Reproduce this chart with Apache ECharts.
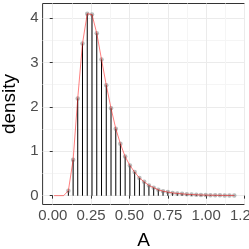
<!DOCTYPE html>
<html><head><meta charset="utf-8">
<script src="https://cdn.jsdelivr.net/npm/echarts@6/dist/echarts.min.js"></script>
<style>html,body{margin:0;padding:0;background:#fff}#c{width:249px;height:249px}</style>
</head><body><div id="c"></div>
<script>
// bin centres of A
var aValues = [0.009,0.040,0.071,0.102,0.133,0.163,0.194,0.225,0.256,0.287,0.318,0.349,0.380,0.411,0.441,0.472,0.503,0.534,0.565,0.596,0.627,0.658,0.688,0.719,0.750,0.781,0.812,0.843,0.874,0.905,0.936,0.966,0.997,1.028,1.059,1.090,1.121,1.152,1.183];
// density at each centre
var densityValues = [0,0,0,0.11,0.81,2.19,3.43,4.10,4.08,3.66,3.07,2.49,1.97,1.51,1.17,0.88,0.68,0.53,0.40,0.31,0.23,0.18,0.13,0.10,0.08,0.06,0.05,0.04,0.03,0.025,0.02,0.015,0.012,0.01,0.008,0.006,0.005,0.004,0.003];
var xTicks = [0,0.25,0.5,0.75,1.0,1.25];
var xTickLabels = ['0.00','0.25','0.50','0.75','1.00','1.25'];
var xMinor = [0.125,0.375,0.625,0.875,1.125];
var yTicks = [0,1,2,3,4];
var yTickLabels = ['0','1','2','3','4'];
var yMinor = [0.5,1.5,2.5,3.5];

var XMIN = -0.066, XMAX = 1.25, YMIN = -0.2, YMAX = 4.33;

var pts = [], barsPts = [];
for (var i = 0; i < aValues.length; i++) {
  pts.push([aValues[i], densityValues[i]]);
  if (densityValues[i] > 0) barsPts.push([aValues[i], densityValues[i]]);
}
function lab(ticks, labels) { return function (v) { for (var i = 0; i < ticks.length; i++) if (Math.abs(ticks[i] - v) < 1e-6) return labels[i]; return ''; }; }

var chart = echarts.init(document.getElementById('c'), null, {renderer: 'canvas'});
chart.setOption({
  animation: false,
  grid: {left: 42.6, right: 4.5, top: 3.5, bottom: 44.5, outerBoundsMode: 'none', containLabel: false, show: true, borderColor: '#333', borderWidth: 1, backgroundColor: '#fff'},
  xAxis: [{
    type: 'value', min: XMIN, max: XMAX,
    axisLine: {show: false},
    axisTick: {show: true, length: 3, customValues: xTicks, lineStyle: {color: '#333', width: 1}},
    axisLabel: {customValues: xTicks, formatter: lab(xTicks, xTickLabels), fontSize: 15, color: '#4d4d4d', margin: 4, fontFamily: 'Liberation Sans', hideOverlap: false},
    splitLine: {show: true, lineStyle: {color: '#ebebeb', width: 1}},
    name: 'A', nameLocation: 'middle', nameGap: 27, nameTextStyle: {fontSize: 19, color: '#000', fontFamily: 'Liberation Sans'}
  }, {
    type: 'value', min: XMIN, max: XMAX, position: 'bottom',
    axisLine: {show: false}, axisLabel: {show: false},
    axisTick: {show: false, customValues: xMinor},
    splitLine: {show: true, lineStyle: {color: '#f5f5f5', width: 1}}
  }],
  yAxis: [{
    type: 'value', min: YMIN, max: YMAX,
    axisLine: {show: false},
    axisTick: {show: true, length: 3, customValues: yTicks, lineStyle: {color: '#333', width: 1}},
    axisLabel: {customValues: yTicks, formatter: lab(yTicks, yTickLabels), fontSize: 15, color: '#4d4d4d', margin: 4, fontFamily: 'Liberation Sans'},
    splitLine: {show: true, lineStyle: {color: '#ebebeb', width: 1}},
    name: 'density', nameLocation: 'middle', nameGap: 22, nameRotate: 90, nameTextStyle: {fontSize: 19, color: '#000', fontFamily: 'Liberation Sans'}
  }, {
    type: 'value', min: YMIN, max: YMAX, position: 'left',
    axisLine: {show: false}, axisLabel: {show: false},
    axisTick: {show: false, customValues: yMinor},
    splitLine: {show: true, lineStyle: {color: '#f5f5f5', width: 1}}
  }],
  series: [{
    type: 'bar', data: barsPts, barWidth: 1, itemStyle: {color: '#000'}, silent: true, z: 2
  }, {
    type: 'scatter', data: barsPts, symbol: 'circle', symbolSize: 4.5, itemStyle: {color: 'rgba(110,110,110,0.6)'}, z: 3
  }, {
    type: 'line', data: pts, showSymbol: false, lineStyle: {color: 'rgba(255,0,0,0.5)', width: 1}, z: 4
  }]
});
</script></body></html>
